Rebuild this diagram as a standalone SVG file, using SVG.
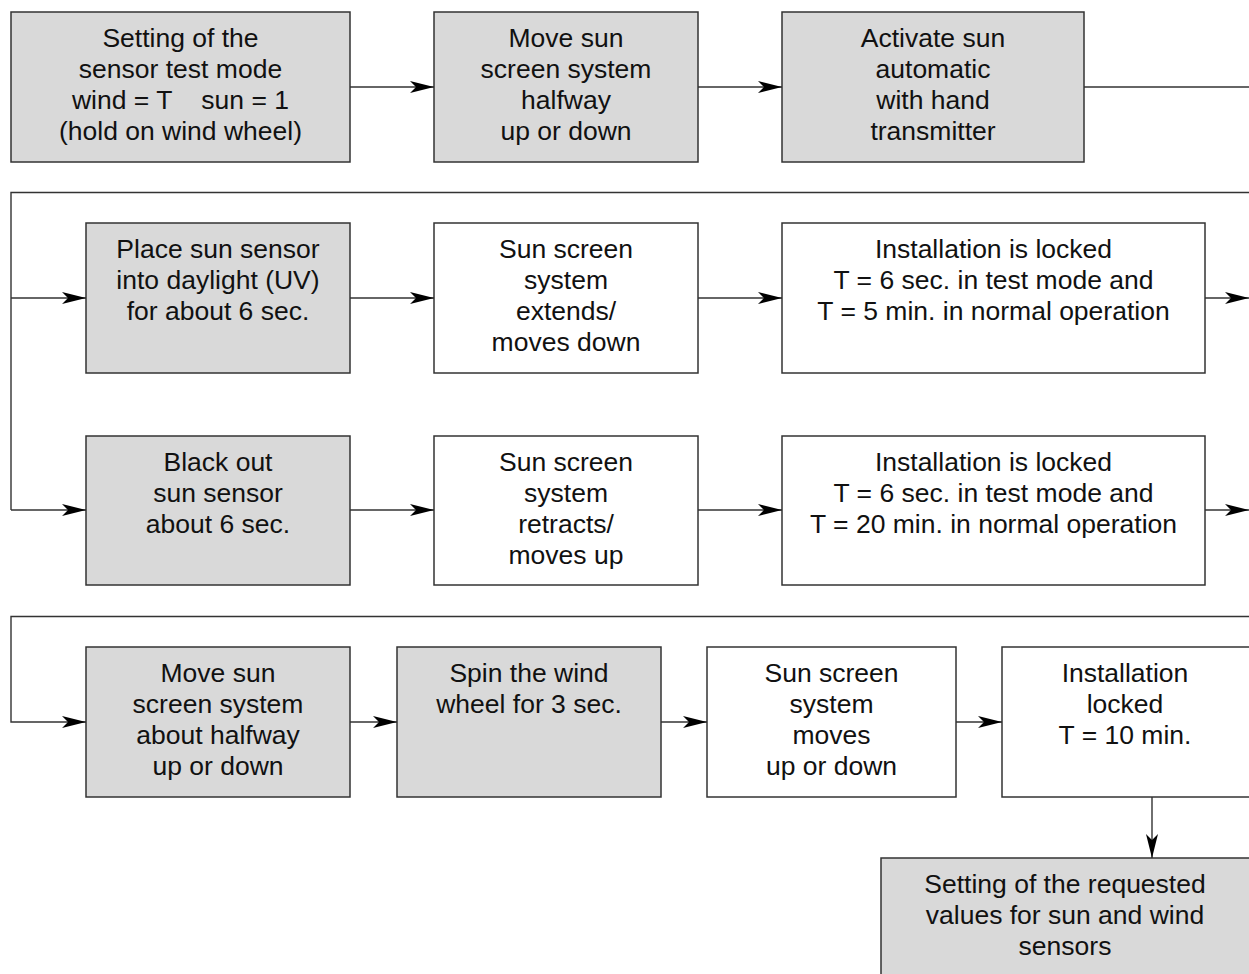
<svg xmlns="http://www.w3.org/2000/svg" width="1249" height="974" viewBox="0 0 1249 974">
<style>
.box{stroke:#333;stroke-width:1.5}
.g{fill:#d9d9d9}
.w{fill:#fff}
text{font-family:"Liberation Sans",Arial,sans-serif;font-size:26.5px;fill:#111;text-anchor:middle}
.c{fill:none;stroke:#333;stroke-width:1.4}
</style>
<defs>
<marker id="ah" markerUnits="userSpaceOnUse" markerWidth="26" markerHeight="14" refX="24" refY="7" orient="auto">
<path d="M24,7 L0,1 L6,7 L0,13 Z" fill="#000"/>
</marker>
</defs>
<rect width="1249" height="974" fill="#fff"/>
<g id="n1"><rect class="box g" x="11" y="12" width="339" height="150"/><text x="180.5" y="47">Setting of the</text><text x="180.5" y="78">sensor test mode</text><text x="180.5" y="109" xml:space="preserve">wind = T    sun = 1</text><text x="180.5" y="140">(hold on wind wheel)</text></g>
<g id="n2"><rect class="box g" x="434" y="12" width="264" height="150"/><text x="566" y="47">Move sun</text><text x="566" y="78">screen system</text><text x="566" y="109">halfway</text><text x="566" y="140">up or down</text></g>
<g id="n3"><rect class="box g" x="782" y="12" width="302" height="150"/><text x="933" y="47">Activate sun</text><text x="933" y="78">automatic</text><text x="933" y="109">with hand</text><text x="933" y="140">transmitter</text></g>
<g id="n4"><rect class="box g" x="86" y="223" width="264" height="150"/><text x="218" y="258">Place sun sensor</text><text x="218" y="289">into daylight (UV)</text><text x="218" y="320">for about 6 sec.</text></g>
<g id="n5"><rect class="box w" x="434" y="223" width="264" height="150"/><text x="566" y="258">Sun screen</text><text x="566" y="289">system</text><text x="566" y="320">extends/</text><text x="566" y="351">moves down</text></g>
<g id="n6"><rect class="box w" x="782" y="223" width="423" height="150"/><text x="993.5" y="258">Installation is locked</text><text x="993.5" y="289">T = 6 sec. in test mode and</text><text x="993.5" y="320">T = 5 min. in normal operation</text></g>
<g id="n7"><rect class="box g" x="86" y="436" width="264" height="149"/><text x="218" y="471">Black out</text><text x="218" y="502">sun sensor</text><text x="218" y="533">about 6 sec.</text></g>
<g id="n8"><rect class="box w" x="434" y="436" width="264" height="149"/><text x="566" y="471">Sun screen</text><text x="566" y="502">system</text><text x="566" y="533">retracts/</text><text x="566" y="564">moves up</text></g>
<g id="n9"><rect class="box w" x="782" y="436" width="423" height="149"/><text x="993.5" y="471">Installation is locked</text><text x="993.5" y="502">T = 6 sec. in test mode and</text><text x="993.5" y="533">T = 20 min. in normal operation</text></g>
<g id="n10"><rect class="box g" x="86" y="647" width="264" height="150"/><text x="218" y="682">Move sun</text><text x="218" y="713">screen system</text><text x="218" y="744">about halfway</text><text x="218" y="775">up or down</text></g>
<g id="n11"><rect class="box g" x="397" y="647" width="264" height="150"/><text x="529" y="682">Spin the wind</text><text x="529" y="713">wheel for 3 sec.</text></g>
<g id="n12"><rect class="box w" x="707" y="647" width="249" height="150"/><text x="831.5" y="682">Sun screen</text><text x="831.5" y="713">system</text><text x="831.5" y="744">moves</text><text x="831.5" y="775">up or down</text></g>
<g id="n13"><rect class="box w" x="1002" y="647" width="260" height="150"/><text x="1125" y="682">Installation</text><text x="1125" y="713">locked</text><text x="1125" y="744">T = 10 min.</text></g>
<g id="n14"><rect class="box g" x="881" y="858" width="380" height="140"/><text x="1065" y="893">Setting of the requested</text><text x="1065" y="924">values for sun and wind</text><text x="1065" y="955">sensors</text></g>
<g id="connectors">
<path class="c" d="M350,87 H434" marker-end="url(#ah)"/>
<path class="c" d="M698,87 H782" marker-end="url(#ah)"/>
<path class="c" d="M1084,87 H1249"/>
<path class="c" d="M1249,192.5 H11 V510"/>
<path class="c" d="M11,298 H86" marker-end="url(#ah)"/>
<path class="c" d="M11,510 H86" marker-end="url(#ah)"/>
<path class="c" d="M350,298 H434" marker-end="url(#ah)"/>
<path class="c" d="M698,298 H782" marker-end="url(#ah)"/>
<path class="c" d="M1205,298 H1249" marker-end="url(#ah)"/>
<path class="c" d="M350,510 H434" marker-end="url(#ah)"/>
<path class="c" d="M698,510 H782" marker-end="url(#ah)"/>
<path class="c" d="M1205,510 H1249" marker-end="url(#ah)"/>
<path class="c" d="M1249,616.5 H11 V722 H86" marker-end="url(#ah)"/>
<path class="c" d="M350,722 H397" marker-end="url(#ah)"/>
<path class="c" d="M661,722 H707" marker-end="url(#ah)"/>
<path class="c" d="M956,722 H1002" marker-end="url(#ah)"/>
<path class="c" d="M1152,797 V858" marker-end="url(#ah)"/>
</g>
</svg>
